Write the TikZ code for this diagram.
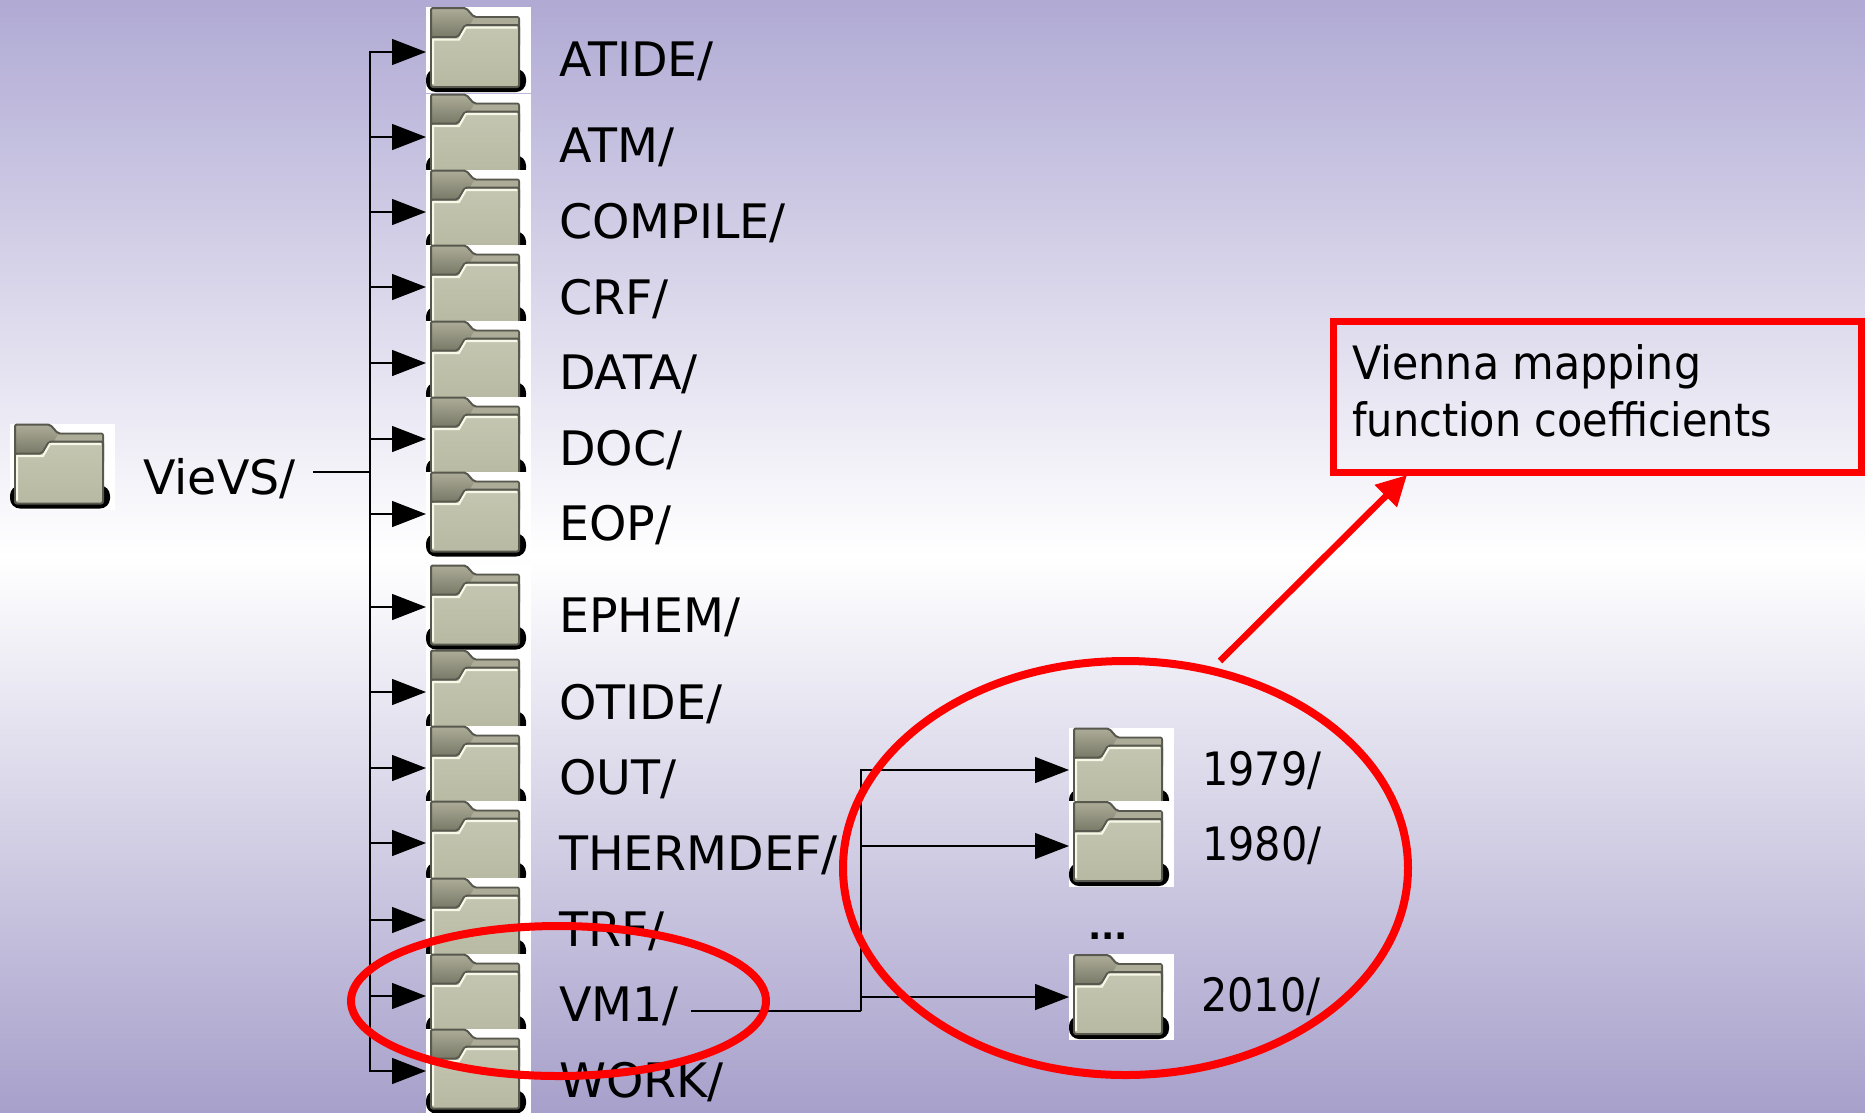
\documentclass[tikz,border=0pt]{standalone}
\usepackage{fontspec}
\setmainfont{DejaVu Sans}
\newfontfamily\narrowfont[FakeStretch=0.9]{DejaVu Sans}
\newfontfamily\notefont[FakeStretch=0.93]{DejaVu Sans}
\usepackage{tikz}
\usetikzlibrary{
  arrows.meta,
  shapes.geometric
}
\definecolor{lilac}{RGB}{176,170,212}
\definecolor{lilacdark}{RGB}{167,160,203}
\definecolor{folderlite}{RGB}{197,198,177}
\definecolor{folderbody}{RGB}{184,185,163}
\definecolor{folderback}{RGB}{104,104,88}
\definecolor{foldertab}{RGB}{172,172,152}
\definecolor{folderedge}{RGB}{88,88,78}
\definecolor{foldershine}{RGB}{248,248,232}

\tikzset{
  folderbox/.style={fill=white, draw=none, minimum width=105pt, minimum height=86pt, inner sep=0pt},
  dirlabel/.style={anchor=base west, inner sep=0pt, font=\fontsize{47.5}{57}\selectfont},
  yearlabel/.style={anchor=base west, inner sep=0pt, font=\narrowfont\fontsize{46}{57}\selectfont},
  notelabel/.style={anchor=base west, inner sep=0pt, font=\narrowfont\fontsize{46}{57}\selectfont},
  treeline/.style={black, line width=1.3pt},
  treearrow/.style={treeline, -{Triangle[length=34pt,width=26pt]}},
  redring/.style={draw=red, ellipse, line width=8pt, inner sep=0pt},
}

% [height of the arrow below the box top] name, x of the arrow tip, y of the arrow tip
\newcommand{\folder}[4][42.5]{%
  \node[folderbox] (#2) at ({#3+52.5},{#4-#1+43}) {};
  \coordinate (#2in) at (#3,#4);
  \begin{scope}[shift={(#3,{#4-#1})}]
    \fill[black, rounded corners=10pt] (0,62) rectangle (100,85);
    \shade[top color=foldertab, bottom color=folderback, draw=folderedge, line width=2pt, rounded corners=2pt]
      (5,1) -- (40,1) -- (48,10) -- (93,10) -- (93,40) -- (5,40) -- cycle;
    \fill[foldertab] (48,11) -- (92,11) -- (92,18) -- (44,18) -- cycle;
    \shade[top color=folderlite, bottom color=folderbody, draw=folderedge, line width=2pt, rounded corners=2pt]
      (5,30) -- (32,30) -- (39,18) -- (93,18) -- (93,80) -- (5,80) -- cycle;
    \draw[foldershine, line width=2pt] (7,77) -- (7,32.5) -- (33,32.5) -- (40,20.5) -- (91,20.5);
  \end{scope}%
}

\begin{document}
\begin{tikzpicture}[x=1pt,y=-1pt]

  \useasboundingbox (0,0) rectangle (1865,1112);

  % background
  \shade[top color=lilac, bottom color=lilacdark, middle color=white] (0,0) rectangle (1865,1112);

  % main folder column
  \folder[48.5]{vievs}{10}{472}
  \folder[45]{atide}{426}{52}
  \folder[43.5]{atm}{426}{137}
  \folder{compile}{426}{212}
  \folder{crf}{426}{287}
  \folder{data}{426}{363}
  \folder{doc}{426}{439}
  \folder{eop}{426}{514}
  \folder{ephem}{426}{607}
  \folder{otide}{426}{692}
  \folder{out}{426}{768}
  \folder{thermdef}{426}{843}
  \folder{trf}{426}{920}
  \folder{vmone}{426}{996}
  \folder{work}{426}{1071}

  % year folders
  \folder{yra}{1069}{770}
  \folder[45]{yrb}{1069}{846}
  \folder[43]{yrc}{1069}{997}

  % labels
  \node[dirlabel] (lblvievs) at (143,494) {VieVS/};
  \node[dirlabel] (lblatide) at (559,76) {ATIDE/};
  \node[dirlabel] (lblatm) at (559,162) {ATM/};
  \node[dirlabel] (lblcompile) at (559,238) {COMPILE/};
  \node[dirlabel] (lblcrf) at (559,314) {CRF/};
  \node[dirlabel] (lbldata) at (559,389) {DATA/};
  \node[dirlabel] (lbldoc) at (559,465) {DOC/};
  \node[dirlabel] (lbleop) at (559,540) {EOP/};
  \node[dirlabel] (lblephem) at (559,632) {EPHEM/};
  \node[dirlabel] (lblotide) at (559,719) {OTIDE/};
  \node[dirlabel] (lblout) at (559,794) {OUT/};
  \node[dirlabel] (lblthermdef) at (559,870) {THERMDEF/};
  \node[dirlabel] (lbltrf) at (559,946) {TRF/};
  \node[dirlabel] (lblvmone) at (559,1021) {VM1/};
  \node[dirlabel] (lblwork) at (559,1097) {WORK/};
  \node[yearlabel] (lblyra) at (1202,785) {1979/};
  \node[yearlabel] (lblyrb) at (1202,860) {1980/};
  \node[yearlabel] (lblyrc) at (1201,1011) {2010/};
  \node[dirlabel, font=\fontsize{35}{40}\bfseries] (lbldots) at (1088,939) {...};

  % tree from the root
  \coordinate (rootout) at (313,472);
  \coordinate (rootbus) at (370,472);
  \draw[treeline] (rootout) -- (rootbus);
  \draw[treearrow] (rootbus) |- (atidein);
  \draw[treearrow] (rootbus) |- (atmin);
  \draw[treearrow] (rootbus) |- (compilein);
  \draw[treearrow] (rootbus) |- (crfin);
  \draw[treearrow] (rootbus) |- (datain);
  \draw[treearrow] (rootbus) |- (docin);
  \draw[treearrow] (rootbus) |- (eopin);
  \draw[treearrow] (rootbus) |- (ephemin);
  \draw[treearrow] (rootbus) |- (otidein);
  \draw[treearrow] (rootbus) |- (outin);
  \draw[treearrow] (rootbus) |- (thermdefin);
  \draw[treearrow] (rootbus) |- (trfin);
  \draw[treearrow] (rootbus) |- (vmonein);
  \draw[treearrow] (rootbus) |- (workin);

  % tree from VM1
  \coordinate (vmout) at (691,1011);
  \coordinate (vmbus) at (861,1011);
  \draw[treeline] (vmout) -- (vmbus);
  \draw[treearrow] (vmbus) |- (yrain);
  \draw[treearrow] (vmbus) |- (yrbin);
  \draw[treearrow] (vmbus) |- (yrcin);

  % red marks
  \node[redring, minimum width=415pt, minimum height=150pt] (vmring) at (558.5,1001) {};
  \node[redring, minimum width=565pt, minimum height=414pt] (yearring) at (1125.5,868) {};
  \node[draw=red, line width=7pt, anchor=north west, minimum width=528pt, minimum height=151pt, inner sep=0pt] (note) at (1330,318) {};
  \node[notelabel, font=\notefont\fontsize{46}{57}\selectfont] (notetop) at (1352,379) {Vienna mapping};
  \node[notelabel] (notebottom) at (1352,436) {function coefficients};
  \coordinate (ringtop) at (1220,661);
  \coordinate (notefoot) at (1407,475);
  \draw[red, line width=6.5pt, -{Triangle[length=30pt,width=30pt]}] (ringtop) -- (notefoot);

\end{tikzpicture}
\end{document}
